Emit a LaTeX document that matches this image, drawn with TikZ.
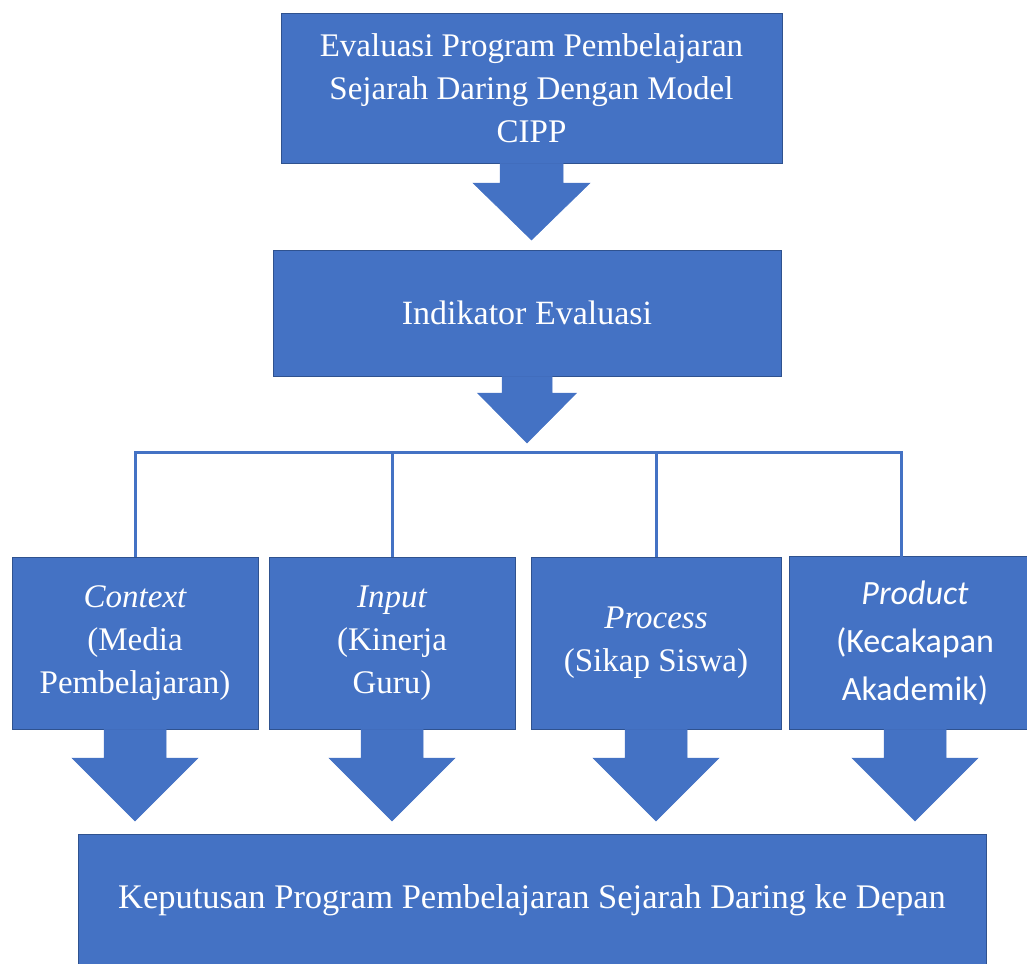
\documentclass[tikz,border=0pt]{standalone}
\usepackage{fontspec}
\setmainfont{Liberation Serif}
\newfontfamily\calibri{Carlito}
\usetikzlibrary{calc}
\definecolor{boxblue}{HTML}{4472C4}
\definecolor{edgeblue}{HTML}{2F528F}
\newcommand{\blockarr}[5]{%
  \filldraw[blk] let \p1=(#1), \p2=(#2) in
    (\x1-#3pt,\y1) -- (\x1+#3pt,\y1) -- (\x1+#3pt,\y2+#5pt) -- (\x1+#4pt,\y2+#5pt)
    -- (\x1,\y2) -- (\x1-#4pt,\y2+#5pt) -- (\x1-#3pt,\y2+#5pt) -- cycle;}
\begin{document}
\begin{tikzpicture}[x=1pt,y=-1pt,
  box/.style={draw=edgeblue, line width=0.8pt, fill=boxblue, text=white,
    align=center, inner sep=0pt, font=\fontsize{33}{43}\selectfont},
  edge/.style={draw=edgeblue, line width=0.8pt},
  conn/.style={draw=boxblue, line width=3pt},
  blk/.style={fill=boxblue, draw=boxblue, line width=0.5pt}]

\useasboundingbox (0,0) rectangle (1027,963);

% nodes
\node[box, minimum width=501pt, minimum height=150pt] (top) at (531.5,88)
  {Evaluasi Program Pembelajaran\\Sejarah Daring Dengan Model\\CIPP};
\node[box, minimum width=508pt, minimum height=126pt,
  font=\fontsize{34}{43}\selectfont] (ind) at (527,313)
  {Indikator Evaluasi};
\node[box, minimum width=246pt, minimum height=172pt] (ctx) at (135,643)
  {\itshape Context\\(Media\\Pembelajaran)};
\node[box, minimum width=246pt, minimum height=172pt] (inp) at (392,643)
  {\itshape Input\\(Kinerja\\Guru)};
\node[box, minimum width=250pt, minimum height=172pt] (proc) at (656,643)
  {\itshape Process\\(Sikap Siswa)};
\node[box, draw=none, minimum width=250pt, minimum height=172pt,
  font=\calibri\fontsize{34}{48}\selectfont] (prod) at (915,643)
  {\itshape Product\\(Kecakapan\\Akademik)};
\draw[edge] (prod.north east) -- (prod.north west) -- (prod.south west) -- (prod.south east);
\node[box, minimum width=908pt, minimum height=132pt,
  font=\fontsize{34.5}{43}\selectfont] (dec) at (532,900)
  {Keputusan Program Pembelajaran Sejarah Daring ke Depan};

% tips of the block arrows
\coordinate (t1) at (531.5,240);
\coordinate (t2) at (527,443);
\coordinate (tc) at (135,821);
\coordinate (ti) at (392,821);
\coordinate (tp) at (656,821);
\coordinate (td) at (915,821);

\blockarr{top.south}{t1}{31.5}{58.5}{57}
\blockarr{ind.south}{t2}{25}{49.5}{50}
\blockarr{ctx.south}{tc}{31}{63}{63}
\blockarr{inp.south}{ti}{31}{63}{63}
\blockarr{proc.south}{tp}{31}{63}{63}
\blockarr{prod.south}{td}{31}{63}{63}

% bus connectors
\coordinate (busR) at (901,452);
\draw[conn] (ctx.north) |- (busR) -- (busR |- prod.north);
\draw[conn] (inp.north) -- (inp.north |- busR);
\draw[conn] (proc.north) -- (proc.north |- busR);
\end{tikzpicture}
\end{document}
